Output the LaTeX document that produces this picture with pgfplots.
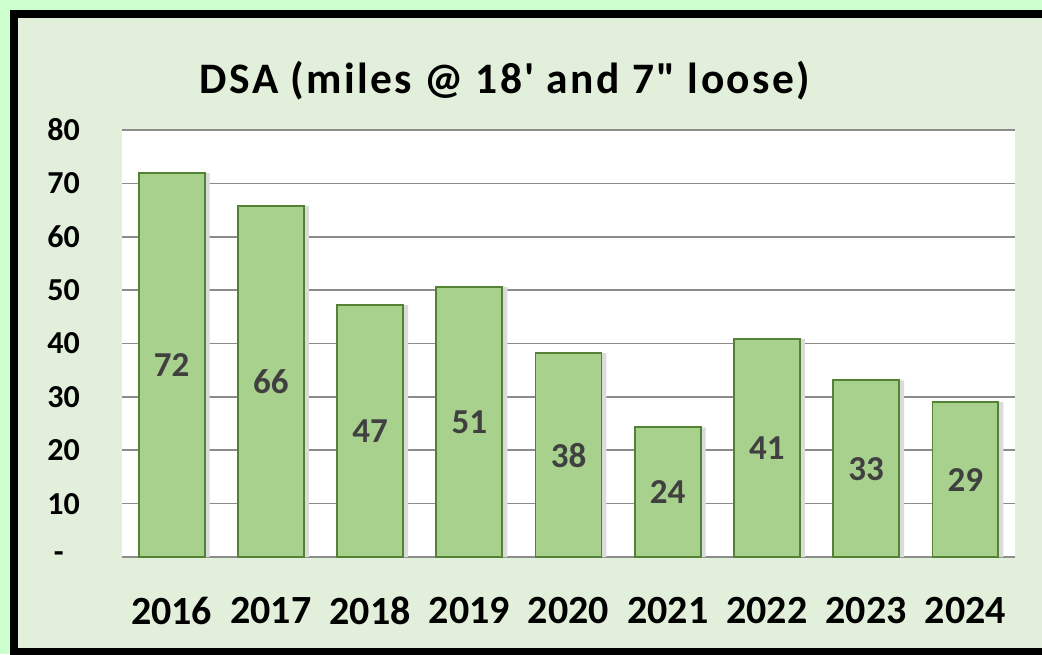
\documentclass[border=0pt]{standalone}
\usepackage{fontspec}
\setmainfont{Carlito}
\newfontfamily\titlefont[LetterSpace=5.5,Ligatures=NoCommon]{Carlito}
\usepackage{pgfplots}
\pgfplotsset{compat=1.18}
\definecolor{mint}{HTML}{CCFFCC}
\definecolor{inner}{HTML}{E2EFDA}
\definecolor{barfill}{HTML}{A9D18E}
\definecolor{barline}{HTML}{548235}
\definecolor{gridc}{HTML}{8C8C8C}
\definecolor{lbl}{HTML}{404040}
\begin{document}
\begin{tikzpicture}[x=1pt,y=1pt]
\useasboundingbox (0,0) rectangle (1042,654);
\begin{scope}
\clip (0,0) rectangle (1042,654);
\fill[mint] (0,0) rectangle (1042,654);
\fill[black] (10,-10) rectangle (1070,644);
\fill[inner] (18,6) rectangle (1070,636);
\end{scope}
\node[anchor=base, font=\titlefont\bfseries\fontsize{43.5}{43.5}\selectfont] at (505,560) {DSA (miles @ 18\char"27{} and 7\char"22{} loose)};
\begin{axis}[
  at={(122pt,97pt)}, anchor=south west,
  width=893pt, height=427pt, scale only axis,
  xmin=-0.5, xmax=8.5, ymin=0, ymax=80,
  xtick={0,...,8},
  xticklabels={2016,2017,2018,2019,2020,2021,2022,2023,2024},
  ytick={0,10,...,80},
  yticklabels={-\hphantom{0},10,20,30,40,50,60,70,80},
  ymajorgrids, major grid style={draw=gridc, line width=1.6pt},
  axis line style={draw=none},
  major tick length=0pt,
  axis background/.style={fill=white},
  /pgf/number format/assume math mode=true,
  yticklabel style={font=\bfseries\fontsize{32}{32}\selectfont, anchor=east, inner sep=0pt, xshift=-42pt},
  xticklabel style={font=\bfseries\fontsize{40}{40}\selectfont, anchor=north, inner sep=0pt, yshift=-40pt},
  clip=false,
]
\addplot[ybar, bar width=0.665, bar shift=5pt, fill=black!14, draw=none, forget plot]
  coordinates {(0,71.9) (1,65.8) (2,47.2) (3,50.6) (4,38.2) (5,24.3) (6,40.8) (7,33.1) (8,29.0)};
\addplot[ybar, bar width=0.665, fill=barfill, draw=barline, line width=1.8pt,
  visualization depends on={rawy/2 \as \halfy},
  nodes near coords={\pgfmathprintnumber[fixed,precision=0]{\pgfplotspointmeta}},
  nodes near coords style={font=\bfseries\fontsize{35}{35}\selectfont, text=lbl, anchor=center,
    shift={(axis direction cs:0,-\halfy)}},
]
  coordinates {(0,71.9) (1,65.8) (2,47.2) (3,50.6) (4,38.2) (5,24.3) (6,40.8) (7,33.1) (8,29.0)};
\end{axis}
\end{tikzpicture}
\end{document}
